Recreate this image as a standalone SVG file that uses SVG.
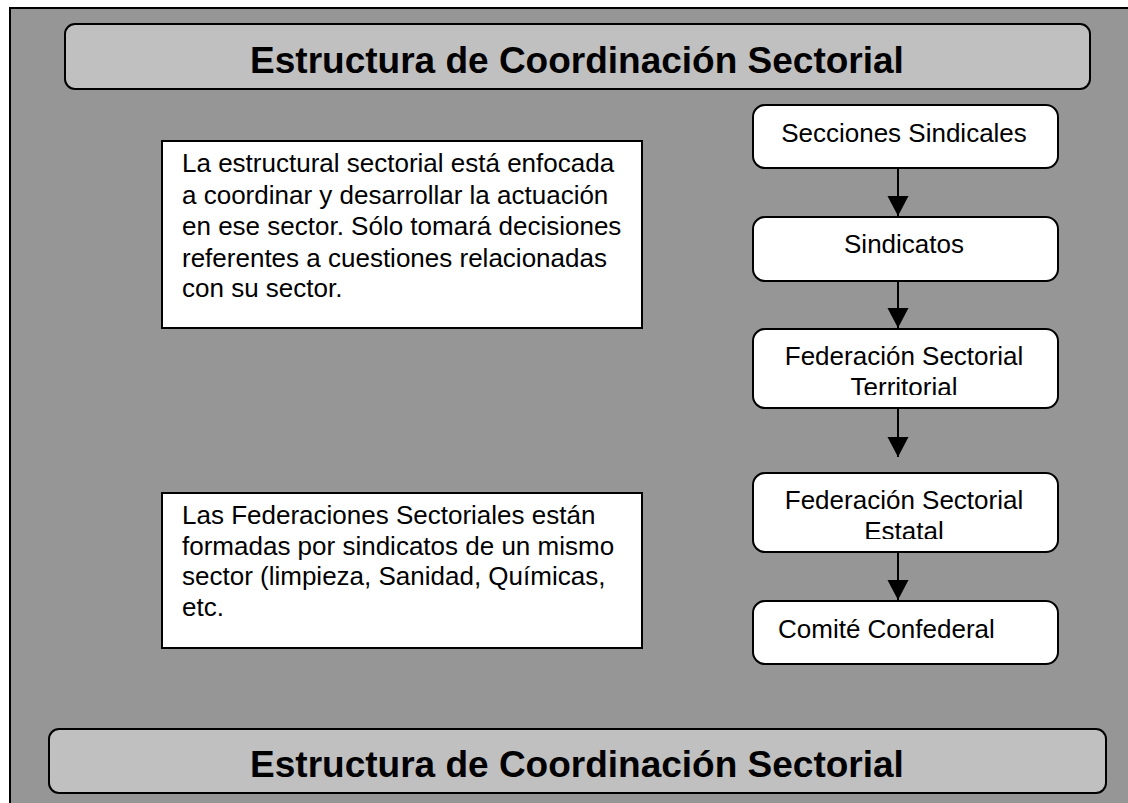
<svg xmlns="http://www.w3.org/2000/svg" width="1128" height="803" viewBox="0 0 1128 803">
<style>
.bg{fill:#969696;stroke:#000;stroke-width:2}
.title{fill:#c0c0c0;stroke:#000;stroke-width:2}
.tt{font-family:"Liberation Sans",Arial,sans-serif;font-weight:bold;font-size:37px;text-anchor:middle;fill:#000}
.node{fill:#fff;stroke:#000;stroke-width:2}
.nt{font-family:"Liberation Sans",Arial,sans-serif;font-size:26px;text-anchor:middle;fill:#000}
.box{fill:#fff;stroke:#000;stroke-width:2}
.bt{font-family:"Liberation Sans",Arial,sans-serif;font-size:26px;fill:#000}
.conn{stroke:#000;stroke-width:2;fill:none}
</style>
<defs>
<marker id="ah" markerUnits="userSpaceOnUse" markerWidth="22" markerHeight="22" refX="20" refY="10.5" orient="auto">
<path d="M0,0 L20,10.5 L0,21 Z" fill="#000"/>
</marker>
<clipPath id="c3"><rect x="755" y="331" width="300" height="64"/></clipPath>
<clipPath id="c4"><rect x="755" y="475" width="300" height="64"/></clipPath>
</defs>
<rect class="bg" x="10" y="8" width="1130" height="810"/>
<g id="title-top">
<rect class="title" x="65" y="24" width="1025" height="65" rx="10"/>
<text class="tt" x="577" y="73">Estructura de Coordinación Sectorial</text>
</g>
<g id="title-bottom">
<rect class="title" x="49" y="729" width="1057" height="64" rx="10"/>
<text class="tt" x="577" y="777">Estructura de Coordinación Sectorial</text>
</g>
<g id="note1">
<rect class="box" x="162" y="141" width="480" height="187"/>
<text class="bt" x="182" y="172">La estructural sectorial está enfocada</text>
<text class="bt" x="182" y="203.5">a coordinar y desarrollar la actuación</text>
<text class="bt" x="182" y="235">en ese sector. Sólo tomará decisiones</text>
<text class="bt" x="182" y="266.5">referentes a cuestiones relacionadas</text>
<text class="bt" x="182" y="297">con su sector.</text>
</g>
<g id="note2">
<rect class="box" x="162" y="493" width="480" height="155"/>
<text class="bt" x="182" y="524">Las Federaciones Sectoriales están</text>
<text class="bt" x="182" y="554.5">formadas por sindicatos de un mismo</text>
<text class="bt" x="182" y="585">sector (limpieza, Sanidad, Químicas,</text>
<text class="bt" x="182" y="615.5">etc.</text>
</g>
<g id="n1">
<rect class="node" x="753" y="105" width="305" height="63" rx="12"/>
<text class="nt" x="904" y="142">Secciones Sindicales</text>
</g>
<g id="n2">
<rect class="node" x="753" y="217" width="305" height="64" rx="12"/>
<text class="nt" x="904" y="253">Sindicatos</text>
</g>
<g id="n3">
<rect class="node" x="753" y="329" width="305" height="79" rx="12"/>
<g clip-path="url(#c3)">
<text class="nt" x="904" y="365">Federación Sectorial</text>
<text class="nt" x="904" y="396">Territorial</text>
</g>
</g>
<g id="n4">
<rect class="node" x="753" y="473" width="305" height="79" rx="12"/>
<g clip-path="url(#c4)">
<text class="nt" x="904" y="509">Federación Sectorial</text>
<text class="nt" x="904" y="540">Estatal</text>
</g>
</g>
<g id="n5">
<rect class="node" x="753" y="601" width="305" height="63" rx="12"/>
<text class="bt" x="778" y="638">Comité Confederal</text>
</g>
<g id="connectors">
<line class="conn" x1="898" y1="168" x2="898" y2="216" marker-end="url(#ah)"/>
<line class="conn" x1="898" y1="281" x2="898" y2="328" marker-end="url(#ah)"/>
<line class="conn" x1="898" y1="408" x2="898" y2="457" marker-end="url(#ah)"/>
<line class="conn" x1="898" y1="552" x2="898" y2="600" marker-end="url(#ah)"/>
</g>
</svg>
